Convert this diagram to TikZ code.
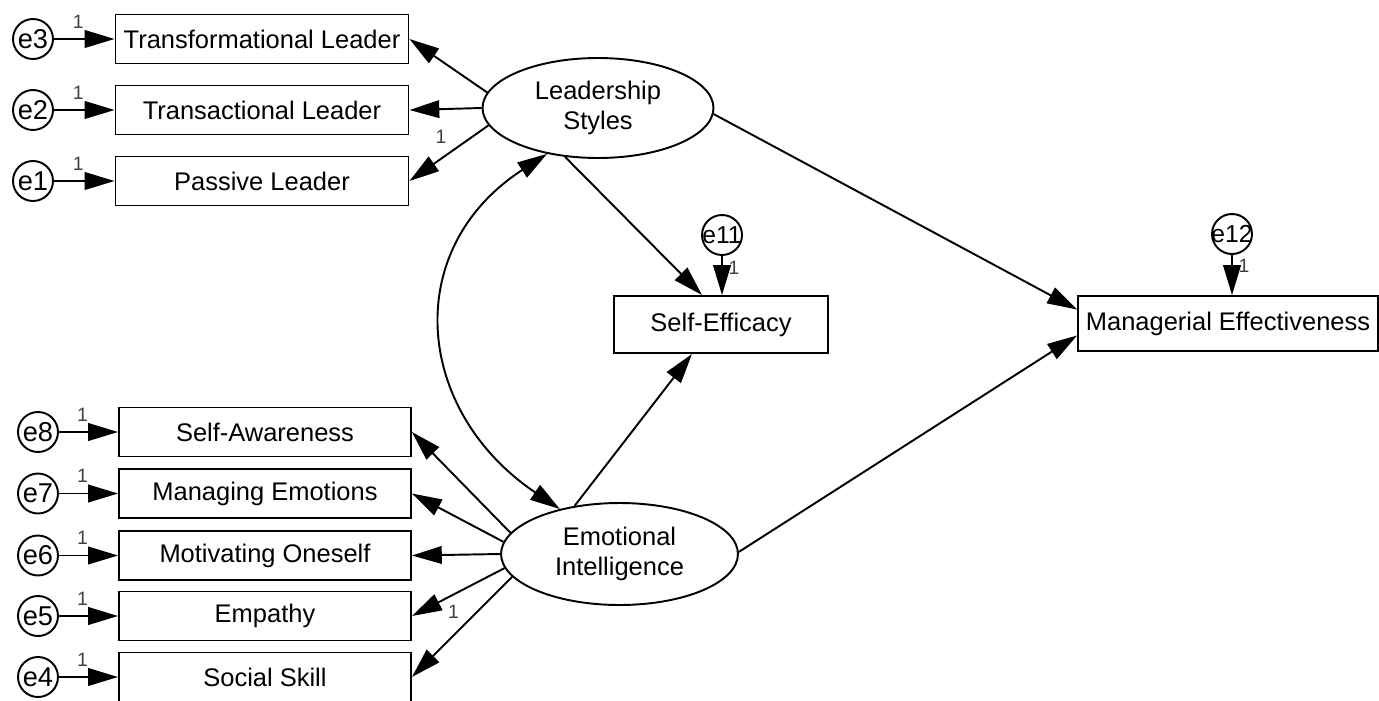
\documentclass[tikz,border=0pt]{standalone}
\usepackage{fontspec}
\setmainfont{Liberation Sans}
\usepackage{tikz}
\usetikzlibrary{shapes,arrows.meta,positioning,calc}

\begin{document}
\begin{tikzpicture}[x=0.02cm,y=-0.02cm,
    every node/.style={font=\fontsize{14.5}{17}\selectfont},
    obs/.style={draw,line width=1.1pt,minimum width=5.86cm,minimum height=0.98cm,inner sep=0},
    lat/.style={draw,ellipse,line width=1.1pt,align=center,inner sep=0},
    err/.style={draw,circle,line width=1.1pt,minimum size=0.8cm,inner sep=0,font=\fontsize{15.5}{15.5}\selectfont},
    reg/.style={line width=1.1pt,-{Triangle[length=17pt,width=10pt]}},
    one/.style={font=\fontsize{11}{11}\selectfont,text=black!75,inner sep=1pt}]
\useasboundingbox (0,0) rectangle (1379,700);

% Latent variables
\node[lat,minimum width=4.62cm,minimum height=2cm] (LS) at (598,108) {Leadership\\Styles};
\node[lat,minimum width=4.74cm,minimum height=2.04cm] (EI) at (619.5,554) {Emotional\\Intelligence};

% Leadership styles indicators
\foreach \e/\b/\txt/\y in {e3/TransfL/Transformational Leader/39,
                           e2/TransL/Transactional Leader/110,
                           e1/PassL/Passive Leader/181}
{
    \node[obs] (\b) at (262,\y) {\txt};
    \node[err] (\e) at (33,\y) {\e};
    \draw[reg] (\e) -- node[one,pos=0.4,above=4.6pt] (l\e) {1} (\b);
}

% Emotional intelligence indicators
\foreach \e/\b/\txt/\y in {e8/SelfAw/Self-Awareness/432,
                           e7/ManEm/Managing Emotions/493.5,
                           e6/MotOn/Motivating Oneself/555.5,
                           e5/Emp/Empathy/616,
                           e4/SocSk/Social Skill/677}
{
    \node[obs,minimum width=5.84cm] (\b) at (265,\y) {\txt};
    \node[err] (\e) at (38,\y) {\e};
    \draw[reg] (\e) -- node[one,pos=0.4,above=4.6pt] (l\e) {1} (\b);
}

% Outcomes
\node[draw,line width=1.1pt,minimum width=4.28cm,minimum height=1.14cm] (SE) at (721,324.5) {Self-Efficacy};
\node[draw,line width=1.1pt,minimum width=6cm,minimum height=1.1cm] (MgE) at (1228,323.5) {Managerial Effectiveness};

% Residuals
\node[err,font=\fontsize{14}{14}\selectfont] (e11) at (722,235) {\makebox[0pt]{e11}};
\node[err,font=\fontsize{14}{14}\selectfont] (e12) at (1232,234) {\makebox[0pt]{e12}};
\draw[reg] (e11) -- node[one,pos=0.3,right=2.2pt] (le11) {1} (e11 |- SE.north);
\draw[reg] (e12) -- node[one,pos=0.26,right=2.2pt] (le12) {1} (e12 |- MgE.north);

% Loadings
\draw[reg] (LS.172) -- (TransfL.east);
\draw[reg] (LS.west) -- (TransL.east);
\draw[reg] (LS.189) -- node[one,pos=0.6,above=7pt] (lLS) {1} (PassL.east);

\draw[reg] (EI.169) -- (SelfAw.east);
\draw[reg] (EI.174) -- (ManEm.east);
\draw[reg] (EI.west) -- (MotOn.east);
\draw[reg] (EI.187) -- node[one,pos=0.55,below=4.6pt] (lEI) {1} (Emp.east);
\draw[reg] (EI.192) -- (SocSk.east);

% Structural paths
\draw[reg] (LS.236) -- ($(SE.north)+(-19,0)$);
\draw[reg] (EI.133) -- ($(SE.south)+(-29,0)$);
\draw[reg] (LS.357) -- ($(MgE.west)+(0,-14)$);
\draw[reg] (EI.1) -- ($(MgE.west)+(0,12)$);

% Covariance
\draw[line width=1.1pt,{Triangle[length=17pt,width=10pt]}-{Triangle[length=17pt,width=10pt]}]
    (LS.222) to[out=213,in=146,looseness=1.26] (EI.143);
\end{tikzpicture}
\end{document}
